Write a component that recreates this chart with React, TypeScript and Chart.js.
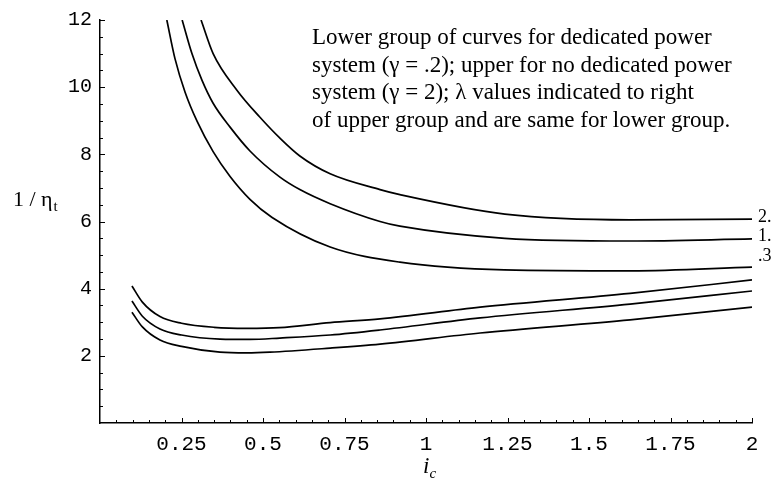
import React, { useEffect, useRef } from "react";
import { Chart, registerables } from "chart.js";

Chart.register(...registerables);

// Upper group (no dedicated power system, gamma = 2)
const upperL03X = [0.205, 0.23, 0.261, 0.298, 0.347, 0.399, 0.46, 0.528, 0.706, 0.92, 1.24, 1.63, 2.0];
const upperL03Y = [12, 10.85, 9.85, 8.98, 8.08, 7.34, 6.66, 6.12, 5.24, 4.79, 4.56, 4.53, 4.64];

const upperL1X = [0.252, 0.282, 0.313, 0.347, 0.399, 0.46, 0.552, 0.613, 0.706, 0.859, 0.92, 1.242, 1.626, 2.0];
const upperL1Y = [12, 11.0, 10.2, 9.52, 8.81, 8.1, 7.32, 6.95, 6.53, 6.0, 5.86, 5.5, 5.42, 5.48];

const upperL2X = [0.31, 0.347, 0.42, 0.49, 0.552, 0.613, 0.706, 0.859, 0.92, 1.242, 1.626, 2.0];
const upperL2Y = [12, 11.0, 9.91, 9.11, 8.48, 7.95, 7.42, 6.95, 6.8, 6.22, 6.05, 6.07];

// Lower group (dedicated power system, gamma = .2)
const lowerL2X = [0.098, 0.13, 0.184, 0.25, 0.35, 0.45, 0.55, 0.706, 0.859, 1.166, 1.626, 2.0];
const lowerL2Y = [4.08, 3.6, 3.17, 2.97, 2.85, 2.82, 2.84, 2.99, 3.1, 3.45, 3.86, 4.26];

const lowerL1X = [0.098, 0.13, 0.184, 0.25, 0.368, 0.46, 0.552, 0.706, 0.859, 1.166, 1.626, 2.0];
const lowerL1Y = [3.63, 3.18, 2.8, 2.62, 2.5, 2.49, 2.53, 2.62, 2.77, 3.13, 3.54, 3.93];

const lowerL03X = [0.098, 0.13, 0.184, 0.25, 0.368, 0.45, 0.521, 0.706, 0.859, 1.166, 1.626, 2.0];
const lowerL03Y = [3.3, 2.86, 2.47, 2.28, 2.11, 2.09, 2.11, 2.23, 2.35, 2.68, 3.07, 3.45];

const lambdaLabels = ["2.", "1.", ".3"];
const lambdaLabelValues = [6.12, 5.55, 4.95];

const noteLines = [
  "Lower group of curves for dedicated power",
  "system (\u03b3 = .2); upper for no dedicated power",
  "system (\u03b3 = 2); \u03bb values indicated to right",
  "of upper group and are same for lower group.",
];

const xMin = 0;
const xMax = 2;
const xStep = 0.25;
const yMin = 0;
const yMax = 12;
const yStep = 2;

const toPoints = (xs: number[], ys: number[]) => xs.map((x, i) => ({ x, y: ys[i] }));

const seriesList = [
  { label: "upper .3", xs: upperL03X, ys: upperL03Y },
  { label: "upper 1.", xs: upperL1X, ys: upperL1Y },
  { label: "upper 2.", xs: upperL2X, ys: upperL2Y },
  { label: "lower 2.", xs: lowerL2X, ys: lowerL2Y },
  { label: "lower 1.", xs: lowerL1X, ys: lowerL1Y },
  { label: "lower .3", xs: lowerL03X, ys: lowerL03Y },
];

const decorPlugin = {
  id: "decor",
  afterDraw(chart: any) {
    const ctx = chart.ctx as CanvasRenderingContext2D;
    const xs = chart.scales.x;
    const ys = chart.scales.y;
    const area = chart.chartArea;
    ctx.save();
    ctx.strokeStyle = "#000";
    ctx.lineWidth = 1;
    // inward y ticks every 0.5
    for (let k = 1; k <= 24; k++) {
      const v = k * 0.5;
      const py = Math.round(ys.getPixelForValue(v)) + 0.5;
      const len = k % 4 === 0 ? 5 : 3;
      ctx.beginPath();
      ctx.moveTo(area.left, py);
      ctx.lineTo(area.left + len, py);
      ctx.stroke();
    }
    // inward x ticks every 0.05
    for (let k = 1; k <= 40; k++) {
      const v = k * 0.05;
      const px = Math.round(xs.getPixelForValue(v)) + 0.5;
      const len = k % 5 === 0 ? 5 : 3;
      ctx.beginPath();
      ctx.moveTo(px, area.bottom);
      ctx.lineTo(px, area.bottom - len);
      ctx.stroke();
    }

    ctx.fillStyle = "#000";
    // y axis title 1 / eta_t
    ctx.textBaseline = "alphabetic";
    ctx.textAlign = "left";
    ctx.font = "22px 'Liberation Serif', serif";
    ctx.fillText("1 / \u03b7", 13, 206);
    const w = ctx.measureText("1 / \u03b7").width;
    ctx.font = "15px 'Liberation Serif', serif";
    ctx.fillText("t", 13 + w + 1, 211);

    // x axis title i_c
    ctx.font = "italic 23px 'Liberation Serif', serif";
    ctx.fillText("i", 423, 473);
    const wi = ctx.measureText("i").width;
    ctx.font = "italic 15px 'Liberation Serif', serif";
    ctx.fillText("c", 423 + wi, 478);

    // note text
    ctx.font = "23px 'Liberation Serif', serif";
    noteLines.forEach((line, i) => {
      ctx.fillText(line, 312, 44 + i * 27.5);
    });

    // lambda labels at the right of the upper group
    ctx.font = "18px 'Liberation Serif', serif";
    ctx.textBaseline = "middle";
    lambdaLabels.forEach((lab, i) => {
      ctx.fillText(lab, area.right + 6, ys.getPixelForValue(lambdaLabelValues[i]));
    });
    ctx.restore();
  },
};

export default function App() {
  const canvasRef = useRef<HTMLCanvasElement | null>(null);

  useEffect(() => {
    document.body.style.margin = "0";
    const canvas = canvasRef.current;
    if (!canvas) return;
    const chart = new Chart(canvas, {
      type: "line",
      data: {
        datasets: seriesList.map((s) => ({
          label: s.label,
          data: toPoints(s.xs, s.ys),
          borderColor: "#000",
          backgroundColor: "#000",
          borderWidth: 1.7,
          pointRadius: 0,
          fill: false,
          cubicInterpolationMode: "monotone" as const,
        })),
      },
      options: {
        responsive: false,
        animation: false,
        layout: { padding: { left: 0, right: 23, top: 20, bottom: 0 } },
        plugins: {
          legend: { display: false },
          tooltip: { enabled: false },
          title: { display: false },
        },
        scales: {
          x: {
            type: "linear",
            min: xMin,
            max: xMax,
            grid: { display: false, drawTicks: false },
            border: { display: true, color: "#000", width: 1.5 },
            ticks: {
              stepSize: xStep,
              padding: 9,
              color: "#000",
              font: { family: "'Liberation Mono', monospace", size: 21 },
              callback: (v: any) => (Number(v) === 0 ? "" : String(Number(v))),
            },
            afterFit: (scale: any) => {
              scale.height = 60;
            },
          },
          y: {
            type: "linear",
            min: yMin,
            max: yMax,
            grid: { display: false, drawTicks: false },
            border: { display: true, color: "#000", width: 1.5 },
            ticks: {
              stepSize: yStep,
              padding: 8,
              color: "#000",
              font: { family: "'Liberation Mono', monospace", size: 20 },
              callback: (v: any) => (Number(v) === 0 ? "" : String(Number(v))),
            },
            afterFit: (scale: any) => {
              scale.width = 100;
            },
          },
        },
      },
      plugins: [decorPlugin],
    });
    return () => chart.destroy();
  }, []);

  return (
    <div style={{ position: "fixed", left: 0, top: 0, width: 775, height: 483, background: "#fff" }}>
      <canvas ref={canvasRef} width={775} height={483} style={{ display: "block" }} />
    </div>
  );
}
